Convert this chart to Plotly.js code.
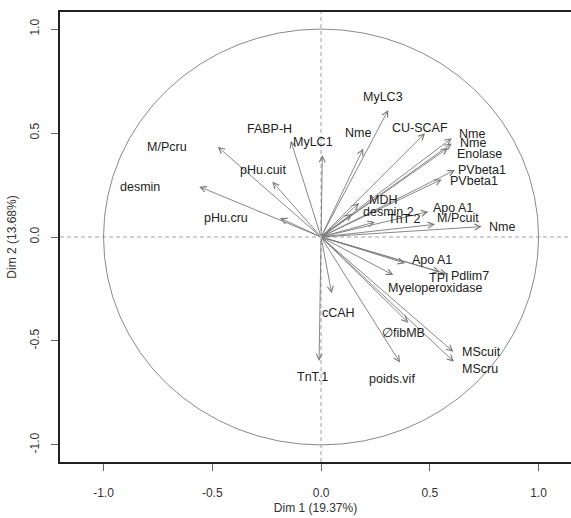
<!DOCTYPE html>
<html>
<head>
<meta charset="utf-8">
<script src="https://cdn.plot.ly/plotly-3.0.1.min.js"></script>
<style>html,body{margin:0;padding:0;background:#fff;}</style>
</head>
<body>
<div id="chart" style="width:571px;height:518px;"></div>
<script>
// Variable names
var varNames = ["MyLC3","Nme","MyLC1","FABP-H","M/Pcru","pHu.cuit","desmin","pHu.cru",
  "CU-SCAF","Nme","Nme","Enolase","PVbeta1","PVbeta1","MDH","desmin 2","TnT 2",
  "Apo A1","M/Pcuit","Nme","Apo A1","TPI","Pdlim7","Myeloperoxidase","cCAH",
  "\u2205fibMB","MScuit","MScru","poids.vif","TnT.1"];
// Coordinates on Dim 1
var dim1 = [0.309,0.194,0.006,-0.139,-0.475,-0.224,-0.560,-0.189,
  0.478,0.601,0.601,0.584,0.616,0.555,0.175,0.143,0.248,
  0.493,0.524,0.739,0.386,0.547,0.579,0.332,0.049,
  0.401,0.608,0.611,0.363,-0.009];
// Coordinates on Dim 2
var dim2 = [0.611,0.426,0.394,0.463,0.434,0.266,0.242,0.091,
  0.499,0.475,0.450,0.428,0.322,0.277,0.163,0.111,0.072,
  0.122,0.061,0.050,-0.126,-0.168,-0.178,-0.183,-0.271,
  -0.412,-0.552,-0.600,-0.604,-0.596];
// Axis tick values and titles
var tickVals = [-1.0,-0.5,0.0,0.5,1.0];
var tickText = ["-1.0","-0.5","0.0","0.5","1.0"];
var xTitle = "Dim 1 (19.37%)";
var yTitle = "Dim 2 (13.68%)";

// label offsets in pixels (layout only)
var labelShift = [[-5,13],[-5,15],[-9,13],[-21,12],[-51,0],[-9,12],[-59,0],[-54,0],
  [-5,5],[20,4],[21,0],[31,-6],[27,0],[32,-2],[24,3],[36,2],[29,3],
  [25,4],[23,6],[20,0],[27,3],[-2,-6],[23,-2],[42,-13],[7,-20],
  [-5,-10],[28,0],[26,-7],[-8,-16],[-7,-16]];

var annotations = [];
for (var i = 0; i < varNames.length; i++) {
  annotations.push({
    x: dim1[i], y: dim2[i], xref: 'x', yref: 'y',
    ax: 0, ay: 0, axref: 'x', ayref: 'y',
    text: '', showarrow: true, arrowhead: 5, arrowsize: 1.3,
    arrowwidth: 0.9, arrowcolor: '#7a7a7a', standoff: 0, startstandoff: 0
  });
}
for (var j = 0; j < varNames.length; j++) {
  annotations.push({
    x: dim1[j], y: dim2[j], xref: 'x', yref: 'y',
    text: varNames[j], showarrow: false,
    xshift: labelShift[j][0], yshift: labelShift[j][1],
    xanchor: 'center', yanchor: 'middle',
    font: {family: 'Arial, Liberation Sans, sans-serif', size: 12.5, color: '#222'}
  });
}

var shapes = [
  {type: 'circle', xref: 'x', yref: 'y', x0: -1, x1: 1, y0: -1, y1: 1,
   line: {color: '#8a8a8a', width: 1}},
  {type: 'line', xref: 'x', yref: 'paper', x0: 0, x1: 0, y0: 0, y1: 1,
   line: {color: '#a0a0a0', width: 1, dash: '4px,3px'}},
  {type: 'line', xref: 'paper', yref: 'y', x0: 0, x1: 1, y0: 0, y1: 0,
   line: {color: '#a0a0a0', width: 1, dash: '4px,3px'}}
];

var trace = {x: dim1, y: dim2, mode: 'markers', type: 'scatter',
  marker: {size: 1, color: 'rgba(0,0,0,0)'}, hoverinfo: 'skip', showlegend: false};

var axisFont = {family: 'Arial, Liberation Sans, sans-serif', size: 12, color: '#333'};
var layout = {
  width: 571, height: 518,
  margin: {l: 60, r: 0, t: 12, b: 56},
  paper_bgcolor: '#fff', plot_bgcolor: '#fff',
  showlegend: false,
  xaxis: {range: [-1.2, 1.149], tickvals: tickVals, ticktext: tickText,
    ticks: 'outside', ticklen: 7, tickcolor: '#666', tickwidth: 1,
    showgrid: false, zeroline: false, showline: true, mirror: true,
    linecolor: '#222', linewidth: 1.6, tickfont: axisFont, ticklabelstandoff: 12,
    title: {text: xTitle, font: axisFont, standoff: 4}},
  yaxis: {range: [-1.082, 1.082], tickvals: tickVals, ticktext: tickText,
    ticks: 'outside', ticklen: 7, tickcolor: '#666', tickwidth: 1, tickangle: -90,
    showgrid: false, zeroline: false, showline: true, mirror: true,
    linecolor: '#222', linewidth: 1.6, tickfont: axisFont, ticklabelstandoff: 8,
    title: {text: yTitle, font: axisFont, standoff: 8}},
  shapes: shapes,
  annotations: annotations
};

Plotly.newPlot('chart', [trace], layout, {staticPlot: true, displayModeBar: false});
</script>
</body>
</html>
